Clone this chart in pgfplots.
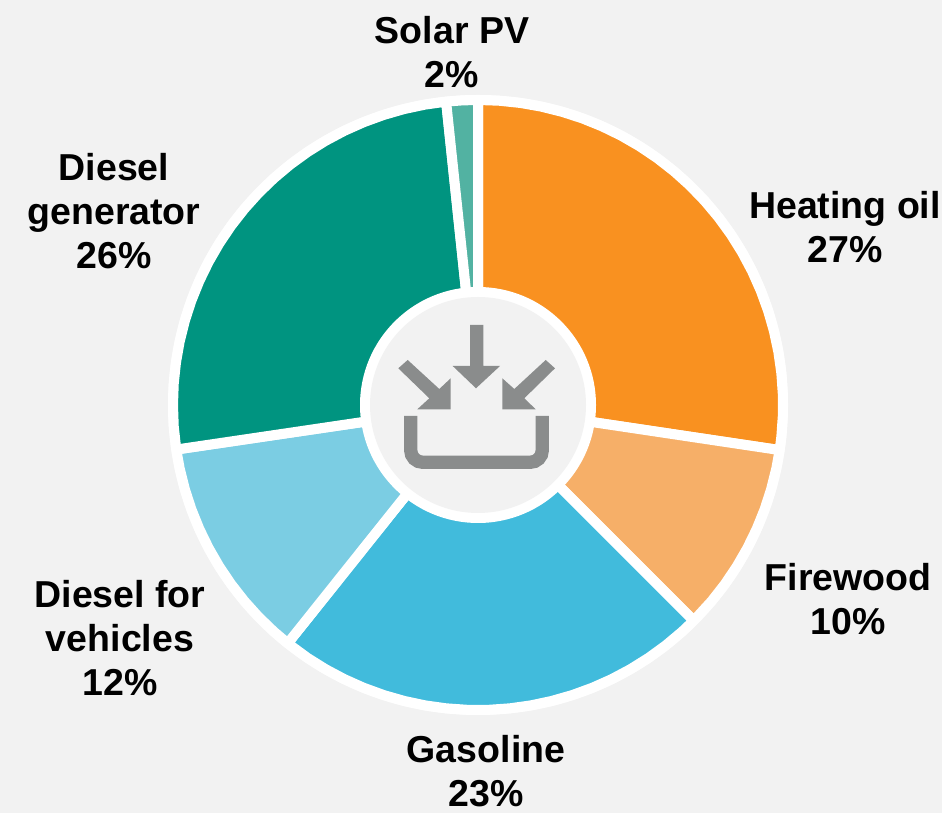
\documentclass[border=0pt]{standalone}
\usepackage{pgfplots}
\pgfplotsset{compat=1.18}
\usepackage{fontspec}
\setmainfont{Liberation Sans}
\definecolor{bgc}{HTML}{F2F2F2}
\definecolor{heat}{HTML}{F99120}
\definecolor{wood}{HTML}{F6AF68}
\definecolor{gaso}{HTML}{41BBDC}
\definecolor{vehi}{HTML}{7BCDE3}
\definecolor{gene}{HTML}{009480}
\definecolor{sola}{HTML}{52B2A2}
\definecolor{icon}{HTML}{8A8C8C}
\pgfplotsset{slice/.style={data cs=polar, no markers, draw=white, line width=10pt, line join=round, fill=#1, forget plot}}
\tikzset{lab/.style={align=center, font=\fontsize{37.5}{44}\selectfont\bfseries, text=black, inner sep=0pt}}
\begin{document}
\begin{tikzpicture}
\begin{axis}[
  scale only axis, width=942pt, height=813pt,
  xmin=-478, xmax=464, ymin=-408, ymax=405,
  hide axis, clip=false]
\fill[bgc] (axis cs:-478,-408) rectangle (axis cs:464,405);
\fill[white] (axis cs:0,0) circle[radius=310];
% Heating oil 27%
\addplot[slice=heat] coordinates {(0,0)(90,305)(86,305)(82,305)(78,305)(74,305)(70,305)(66,305)(62,305)(58,305)(54,305)(50,305)(46,305)(42,305)(38,305)(34,305)(30,305)(26,305)(22,305)(18,305)(14,305)(10,305)(6,305)(2,305)(-2,305)(-6,305)(-8.5,305)} -- cycle;
% Firewood 10%
\addplot[slice=wood] coordinates {(0,0)(-8.5,305)(-12,305)(-16,305)(-20,305)(-24,305)(-28,305)(-32,305)(-36,305)(-40,305)(-45,305)} -- cycle;
% Gasoline 23%
\addplot[slice=gaso] coordinates {(0,0)(-45,305)(-48,305)(-52,305)(-56,305)(-60,305)(-64,305)(-68,305)(-72,305)(-76,305)(-80,305)(-84,305)(-88,305)(-92,305)(-96,305)(-100,305)(-104,305)(-108,305)(-112,305)(-116,305)(-120,305)(-124,305)(-128.6,305)} -- cycle;
% Diesel for vehicles 12%
\addplot[slice=vehi] coordinates {(0,0)(-128.6,305)(-132,305)(-136,305)(-140,305)(-144,305)(-148,305)(-152,305)(-156,305)(-160,305)(-164,305)(-168,305)(-171.6,305)} -- cycle;
% Diesel generator 26%
\addplot[slice=gene] coordinates {(0,0)(188.4,305)(184,305)(180,305)(176,305)(172,305)(168,305)(164,305)(160,305)(156,305)(152,305)(148,305)(144,305)(140,305)(136,305)(132,305)(128,305)(124,305)(120,305)(116,305)(112,305)(108,305)(104,305)(100,305)(96,305)} -- cycle;
% Solar PV 2%
\addplot[slice=sola] coordinates {(0,0)(96,305)(93,305)(90,305)} -- cycle;
% centre
\fill[white] (axis cs:0,0) circle[radius=118];
\fill[bgc] (axis cs:0,0) circle[radius=108];
% icon
\fill[icon] (axis cs:-8,80) -- (axis cs:5.3,80) -- (axis cs:5.3,39) -- (axis cs:22,39) -- (axis cs:-2,16.7) -- (axis cs:-25.3,39) -- (axis cs:-8,39) -- cycle;
\fill[icon] (axis cs:-79.7,36.7) -- (axis cs:-70.3,45) -- (axis cs:-38.7,16) -- (axis cs:-27.3,26.7) -- (axis cs:-27.3,-4.3) -- (axis cs:-60.7,-4.3) -- (axis cs:-48.7,6.7) -- cycle;
\fill[icon] (axis cs:77,36.7) -- (axis cs:67.7,45) -- (axis cs:36.3,16) -- (axis cs:24.3,26.7) -- (axis cs:24.3,-4.3) -- (axis cs:57.7,-4.3) -- (axis cs:46.3,6.7) -- cycle;
\draw[icon, line width=13.3pt, rounded corners=12pt] (axis cs:-67.3,-11) -- (axis cs:-67.3,-57.3) -- (axis cs:64.3,-57.3) -- (axis cs:64.3,-11);
% labels
\node[lab] at (axis cs:-26,353) {Solar PV\\2\%};
\node[lab] at (axis cs:367,178) {Heating oil\\27\%};
\node[lab] at (axis cs:370,-194) {Firewood\\10\%};
\node[lab] at (axis cs:8,-366) {Gasoline\\23\%};
\node[lab] at (axis cs:-358,-233) {Diesel for\\vehicles\\12\%};
\node[lab] at (axis cs:-364,194) {Diesel\\generator\\26\%};
\end{axis}
\end{tikzpicture}
\end{document}
